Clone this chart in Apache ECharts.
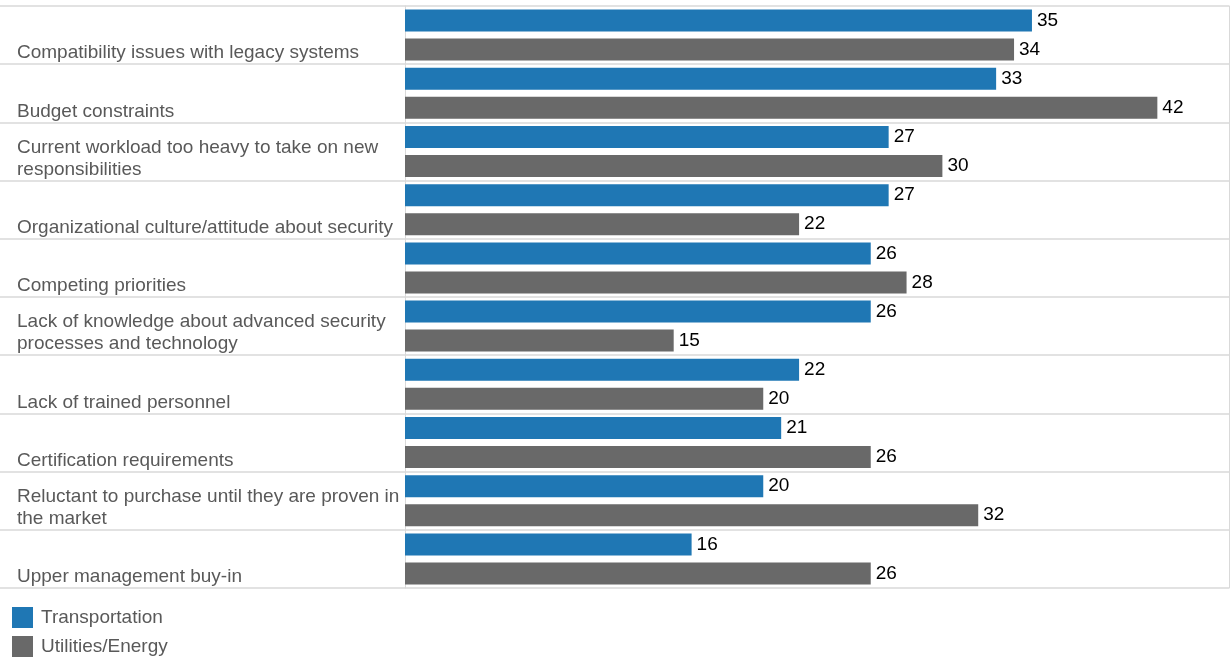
<!DOCTYPE html>
<html>
<head>
<meta charset="utf-8">
<script src="https://cdn.jsdelivr.net/npm/echarts@6/dist/echarts.min.js"></script>
<style>
  html, body { margin: 0; padding: 0; background: #ffffff; }
  #chart { width: 1230px; height: 658px; }
</style>
</head>
<body>
<div id="chart"></div>
<script>
// Barriers to adopting advanced security, by sector (percent)
const categories = [
  'Compatibility issues with legacy systems',
  'Budget constraints',
  'Current workload too heavy to take on new\nresponsibilities',
  'Organizational culture/attitude about security',
  'Competing priorities',
  'Lack of knowledge about advanced security\nprocesses and technology',
  'Lack of trained personnel',
  'Certification requirements',
  'Reluctant to purchase until they are proven in\nthe market',
  'Upper management buy-in'
];
const transportation = [35, 33, 27, 27, 26, 26, 22, 21, 20, 16];
const utilitiesEnergy = [34, 42, 30, 22, 28, 15, 20, 26, 32, 26];
const seriesNames = ['Transportation', 'Utilities/Energy'];

const FONT = '"Liberation Sans", Arial, sans-serif';
const FONT_SIZE = 19;
const GRID_LINE = '#d9d9d9';
const TEXT_GREY = '#595959';

const chart = echarts.init(document.getElementById('chart'), null, { renderer: 'canvas' });

const valueLabel = {
  show: true,
  position: 'right',
  distance: 5,
  color: '#000000',
  fontSize: FONT_SIZE,
  fontFamily: FONT
};

chart.setOption({
  animation: false,
  textStyle: { fontFamily: FONT },
  legend: {
    orient: 'vertical',
    left: 12,
    top: 607,
    height: 60,
    padding: 0,
    itemWidth: 21,
    itemHeight: 21,
    itemGap: 8,
    icon: 'rect',
    textStyle: { fontSize: FONT_SIZE, color: TEXT_GREY, fontFamily: FONT, padding: [0, 0, 0, 3] },
    data: seriesNames
  },
  grid: [
    { left: 405, right: 1, top: 6, bottom: 70, containLabel: false },
    { left: 0, width: 405, top: 6, bottom: 70, containLabel: false }
  ],
  xAxis: [
    { type: 'value', gridIndex: 0, min: 0, max: 46, show: false },
    { type: 'value', gridIndex: 1, min: 0, max: 1, show: false }
  ],
  yAxis: [
    {
      type: 'category',
      gridIndex: 0,
      data: categories,
      inverse: true,
      axisLine: { show: true, lineStyle: { color: GRID_LINE, width: 1 } },
      axisTick: { show: false },
      splitLine: { show: true, interval: 0, lineStyle: { color: GRID_LINE, width: 1.5 } },
      axisLabel: {
        interval: 0,
        align: 'left',
        verticalAlign: 'bottom',
        margin: 388,
        color: TEXT_GREY,
        fontSize: FONT_SIZE,
        fontFamily: FONT,
        lineHeight: 22,
        padding: [0, 0, -29, 0]
      }
    },
    {
      type: 'category',
      gridIndex: 0,
      position: 'right',
      data: categories,
      inverse: true,
      axisLine: { show: true, lineStyle: { color: GRID_LINE, width: 1 } },
      axisTick: { show: false },
      axisLabel: { show: false },
      splitLine: { show: false }
    },
    {
      type: 'category',
      gridIndex: 1,
      data: categories,
      inverse: true,
      axisLine: { show: false },
      axisTick: { show: false },
      axisLabel: { show: false },
      splitLine: { show: true, interval: 0, lineStyle: { color: GRID_LINE, width: 1.5 } }
    }
  ],
  series: [
    {
      name: seriesNames[0],
      type: 'bar',
      xAxisIndex: 0,
      yAxisIndex: 0,
      data: transportation,
      barWidth: 22,
      barGap: '32%',
      itemStyle: { color: '#1f77b4' },
      label: valueLabel
    },
    {
      name: seriesNames[1],
      type: 'bar',
      xAxisIndex: 0,
      yAxisIndex: 0,
      data: utilitiesEnergy,
      barWidth: 22,
      barGap: '32%',
      itemStyle: { color: '#696969' },
      label: valueLabel
    }
  ]
});
</script>
</body>
</html>
